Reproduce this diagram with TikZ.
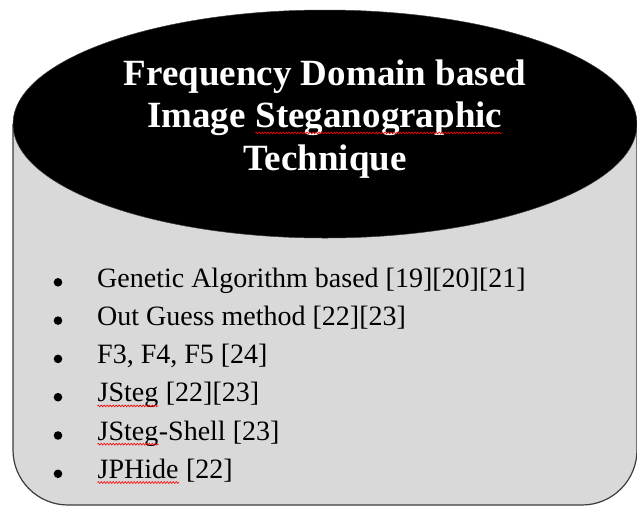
\documentclass[tikz,border=0pt]{standalone}
\usepackage{fontspec}
\setmainfont{Liberation Serif}
\usetikzlibrary{positioning, calc, decorations.pathmorphing}
\definecolor{canbody}{RGB}{217,217,217}
\definecolor{canedge}{RGB}{60,60,60}
\tikzstyle{title} = [text=white, font=\fontsize{37}{42.5}\selectfont\bfseries, align=center, inner sep=0pt]
\tikzstyle{item} = [anchor=base west, inner sep=0pt, font=\fontsize{28}{34}\selectfont]
% red spell-check wave under a word
\newcommand{\spellwave}[2][-4pt]{\tikz[baseline=(w.base)]{\node[inner sep=0pt, anchor=base] (w) {#2};
	\draw[red, line width=0.6pt, decorate, decoration={zigzag, segment length=3pt, amplitude=0.9pt}] ([yshift=#1]w.base west) -- ([yshift=#1]w.base east);}}

\begin{document}
\begin{tikzpicture}[x=1pt, y=-1pt]
		\useasboundingbox (0,0) rectangle (637,507);
		\coordinate (lid)   at (325,  124);
		\coordinate (label) at (325,  119);
		\coordinate (first) at (97,   287);

		% body of the can
		\draw[canedge, fill=canbody, line width=1.2pt, rounded corners=55pt] (13,124) |- (637,505) -- (637,124);
		% lid
		\draw[canedge, fill=black, line width=0.5pt] (lid) ellipse [x radius=312, y radius=114];

		\node[title] (TTL) at (label) {Frequency Domain based\\Image \spellwave[-5pt]{Steganographic}\\Technique};

		\node[item] (GEN) at (first) {Genetic Algorithm based [19][20][21]};
		\node[item] (OUT) at ($(first)+(0, 38.3)$) {Out Guess method [22][23]};
		\node[item] (FFF) at ($(first)+(0, 76.6)$) {F3, F4, F5 [24]};
		\node[item] (JST) at ($(first)+(0, 114.9)$) {\spellwave{JSteg} [22][23]};
		\node[item] (JSS) at ($(first)+(0, 153.2)$) {\spellwave{JSteg}-Shell [23]};
		\node[item] (JPH) at ($(first)+(0, 191.5)$) {\spellwave{JPHide} [22]};

		% bullets
		\foreach \n in {GEN, OUT, FFF, JST, JSS, JPH}
			\fill ($(\n.base west)+(-39, -4.7)$) circle (4.3);
	\end{tikzpicture}
\end{document}
